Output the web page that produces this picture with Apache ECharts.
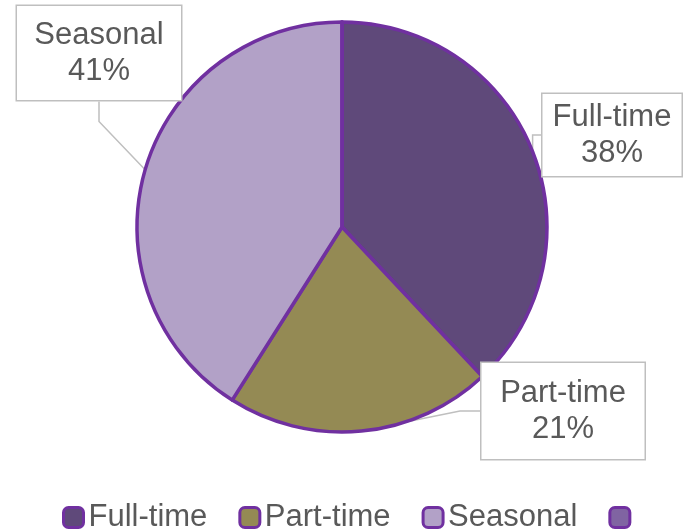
<!DOCTYPE html>
<html>
<head>
<meta charset="utf-8">
<script src="https://cdn.jsdelivr.net/npm/echarts@6/dist/echarts.min.js"></script>
<style>
  html, body { margin: 0; padding: 0; background: #fff; }
  #chart { width: 684px; height: 531px; }
</style>
</head>
<body>
<div id="chart"></div>
<script>
// data
const categories = ['Full-time', 'Part-time', 'Seasonal', ' '];
const values = [38, 21, 41, 0];
const colors = ['#5F497A', '#948A54', '#B2A1C7', '#8064A2'];

// callout boxes: center x/y, box width, vertical padding
const boxes = [
  { x: 612, y: 135, w: 139, pv: 5 },
  { x: 563, y: 411, w: 163, pv: 12 },
  { x: 99, y: 53, w: 164, pv: 11 },
  null
];

const font = '"Liberation Sans", Arial, sans-serif';
const myChart = echarts.init(document.getElementById('chart'));

const seriesData = categories.map((name, i) => {
  const item = { name: name, value: values[i], itemStyle: { color: colors[i] } };
  if (boxes[i]) {
    item.label = { width: boxes[i].w - 16, padding: [boxes[i].pv, 8] };
  } else {
    item.label = { show: false };
    item.labelLine = { show: false };
  }
  return item;
});

const options = {
  animation: false,
  color: colors,
  textStyle: { fontFamily: font },
  legend: {
    top: 502,
    left: 62,
    itemWidth: 20,
    itemHeight: 20,
    itemGap: 31,
    padding: 0,
    icon: 'roundRect',
    itemStyle: { borderColor: '#7030A0', borderWidth: 3 },
    textStyle: { fontSize: 31, color: '#595959', fontFamily: font },
    data: categories
  },
  series: [
    {
      type: 'pie',
      center: [342, 227],
      radius: 205,
      startAngle: 90,
      clockwise: true,
      percentPrecision: 0,
      avoidLabelOverlap: false,
      itemStyle: { borderColor: '#7030A0', borderWidth: 3.5 },
      label: {
        show: true,
        formatter: '{b}\n{d}%',
        fontSize: 31,
        lineHeight: 36,
        color: '#595959',
        fontFamily: font,
        align: 'center',
        backgroundColor: '#fff',
        borderColor: '#BFBFBF',
        borderWidth: 1.5
      },
      labelLine: {
        show: true,
        length: 20,
        length2: 20,
        lineStyle: { color: '#BFBFBF', width: 1.5 }
      },
      labelLayout: function (params) {
        const b = boxes[params.dataIndex];
        if (!b) return {};
        return { x: b.x, y: b.y, align: 'center', verticalAlign: 'middle' };
      },
      emphasis: { disabled: true },
      data: seriesData
    }
  ]
};

myChart.setOption(options);
</script>
</body>
</html>
